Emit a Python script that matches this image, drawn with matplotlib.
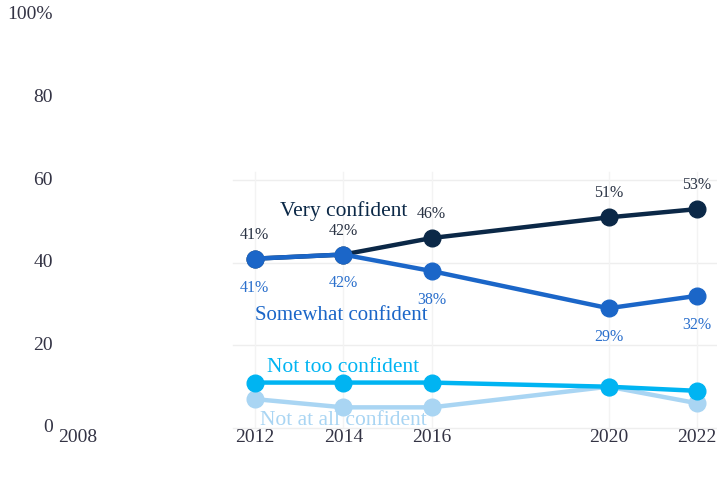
import matplotlib
matplotlib.use("Agg")
import matplotlib.pyplot as plt

years = [2012, 2014, 2016, 2020, 2022]
very_confident = [41, 42, 46, 51, 53]
somewhat_confident = [41, 42, 38, 29, 32]
not_too_confident = [11, 11, 11, 10, 9]
not_at_all_confident = [7, 5, 5, 10, 6]

x_ticks = [2008, 2012, 2014, 2016, 2020, 2022]
y_ticks = [0, 20, 40, 60, 80, 100]
y_tick_labels = ["0", "20", "40", "60", "80", "100%"]

series_names = ["Very confident", "Somewhat confident", "Not too confident", "Not at all confident"]

plt.rcParams["font.family"] = ["Liberation Serif", "DejaVu Serif"]

W, H = 717, 479
fig = plt.figure(figsize=(W / 100, H / 100), dpi=100)
left_px, right_px, top_px, bottom_px = 60, 717, 5, 428
ax = fig.add_axes([left_px / W, 1 - bottom_px / H, (right_px - left_px) / W, (bottom_px - top_px) / H])

px_per_year = (697 - 78) / 14.0
ax.set_xlim(2008 - (78 - left_px) / px_per_year, 2022 + (right_px - 697) / px_per_year)
px_per_unit = (428 - 15) / 100.0
ax.set_ylim(0, 100 + (15 - top_px) / px_per_unit)

# faint grid inside the data region
for yv in [0, 20, 40, 60]:
    ax.plot([2011.5, ax.get_xlim()[1]], [yv, yv], color="#eeeeee", lw=1, zorder=0, clip_on=False)
for xv in years:
    ax.plot([xv, xv], [0, 62], color="#f3f3f3", lw=1, zorder=0)

colors = ["#0b2847", "#1b66c8", "#00b4f2", "#a9d5f3"]
data = [very_confident, somewhat_confident, not_too_confident, not_at_all_confident]
zorders = [4, 5, 3, 2]
for i in range(4):
    ax.plot(years, data[i], color=colors[i], lw=3.2, marker="o", markersize=12,
            solid_capstyle="round", zorder=zorders[i], clip_on=False)

# value labels
for x, v in zip(years, very_confident):
    ax.annotate(f"{v}%", (x, v), xytext=(0, 11.5), textcoords="offset points",
                ha="center", va="bottom", fontsize=11.5, color="#2a3344")
for x, v in zip(years, somewhat_confident):
    ax.annotate(f"{v}%", (x, v), xytext=(0, -15), textcoords="offset points",
                ha="center", va="top", fontsize=11.5, color="#2a6fcc")

# series labels
label_pos = [(2014.0, 52.6), (2013.95, 27.2), (2014.0, 14.6), (2014.0, 1.8)]
label_sizes = [15.5, 15, 15.5, 15.5]
for name, (lx, ly), c, fs in zip(series_names, label_pos, colors, label_sizes):
    ax.text(lx, ly, name, ha="center", va="center", fontsize=fs, color=c)

ax.set_xticks(x_ticks)
ax.set_xticklabels([str(t) for t in x_ticks])
ax.set_yticks(y_ticks)
ax.set_yticklabels(y_tick_labels)
ax.tick_params(axis="both", length=0, labelsize=14, colors="#333344")
ax.tick_params(axis="x", pad=1)
ax.tick_params(axis="y", pad=5)
for lab in ax.get_yticklabels():
    lab.set_verticalalignment("center")
for s in ax.spines.values():
    s.set_visible(False)

fig.savefig("out.png", dpi=100)
